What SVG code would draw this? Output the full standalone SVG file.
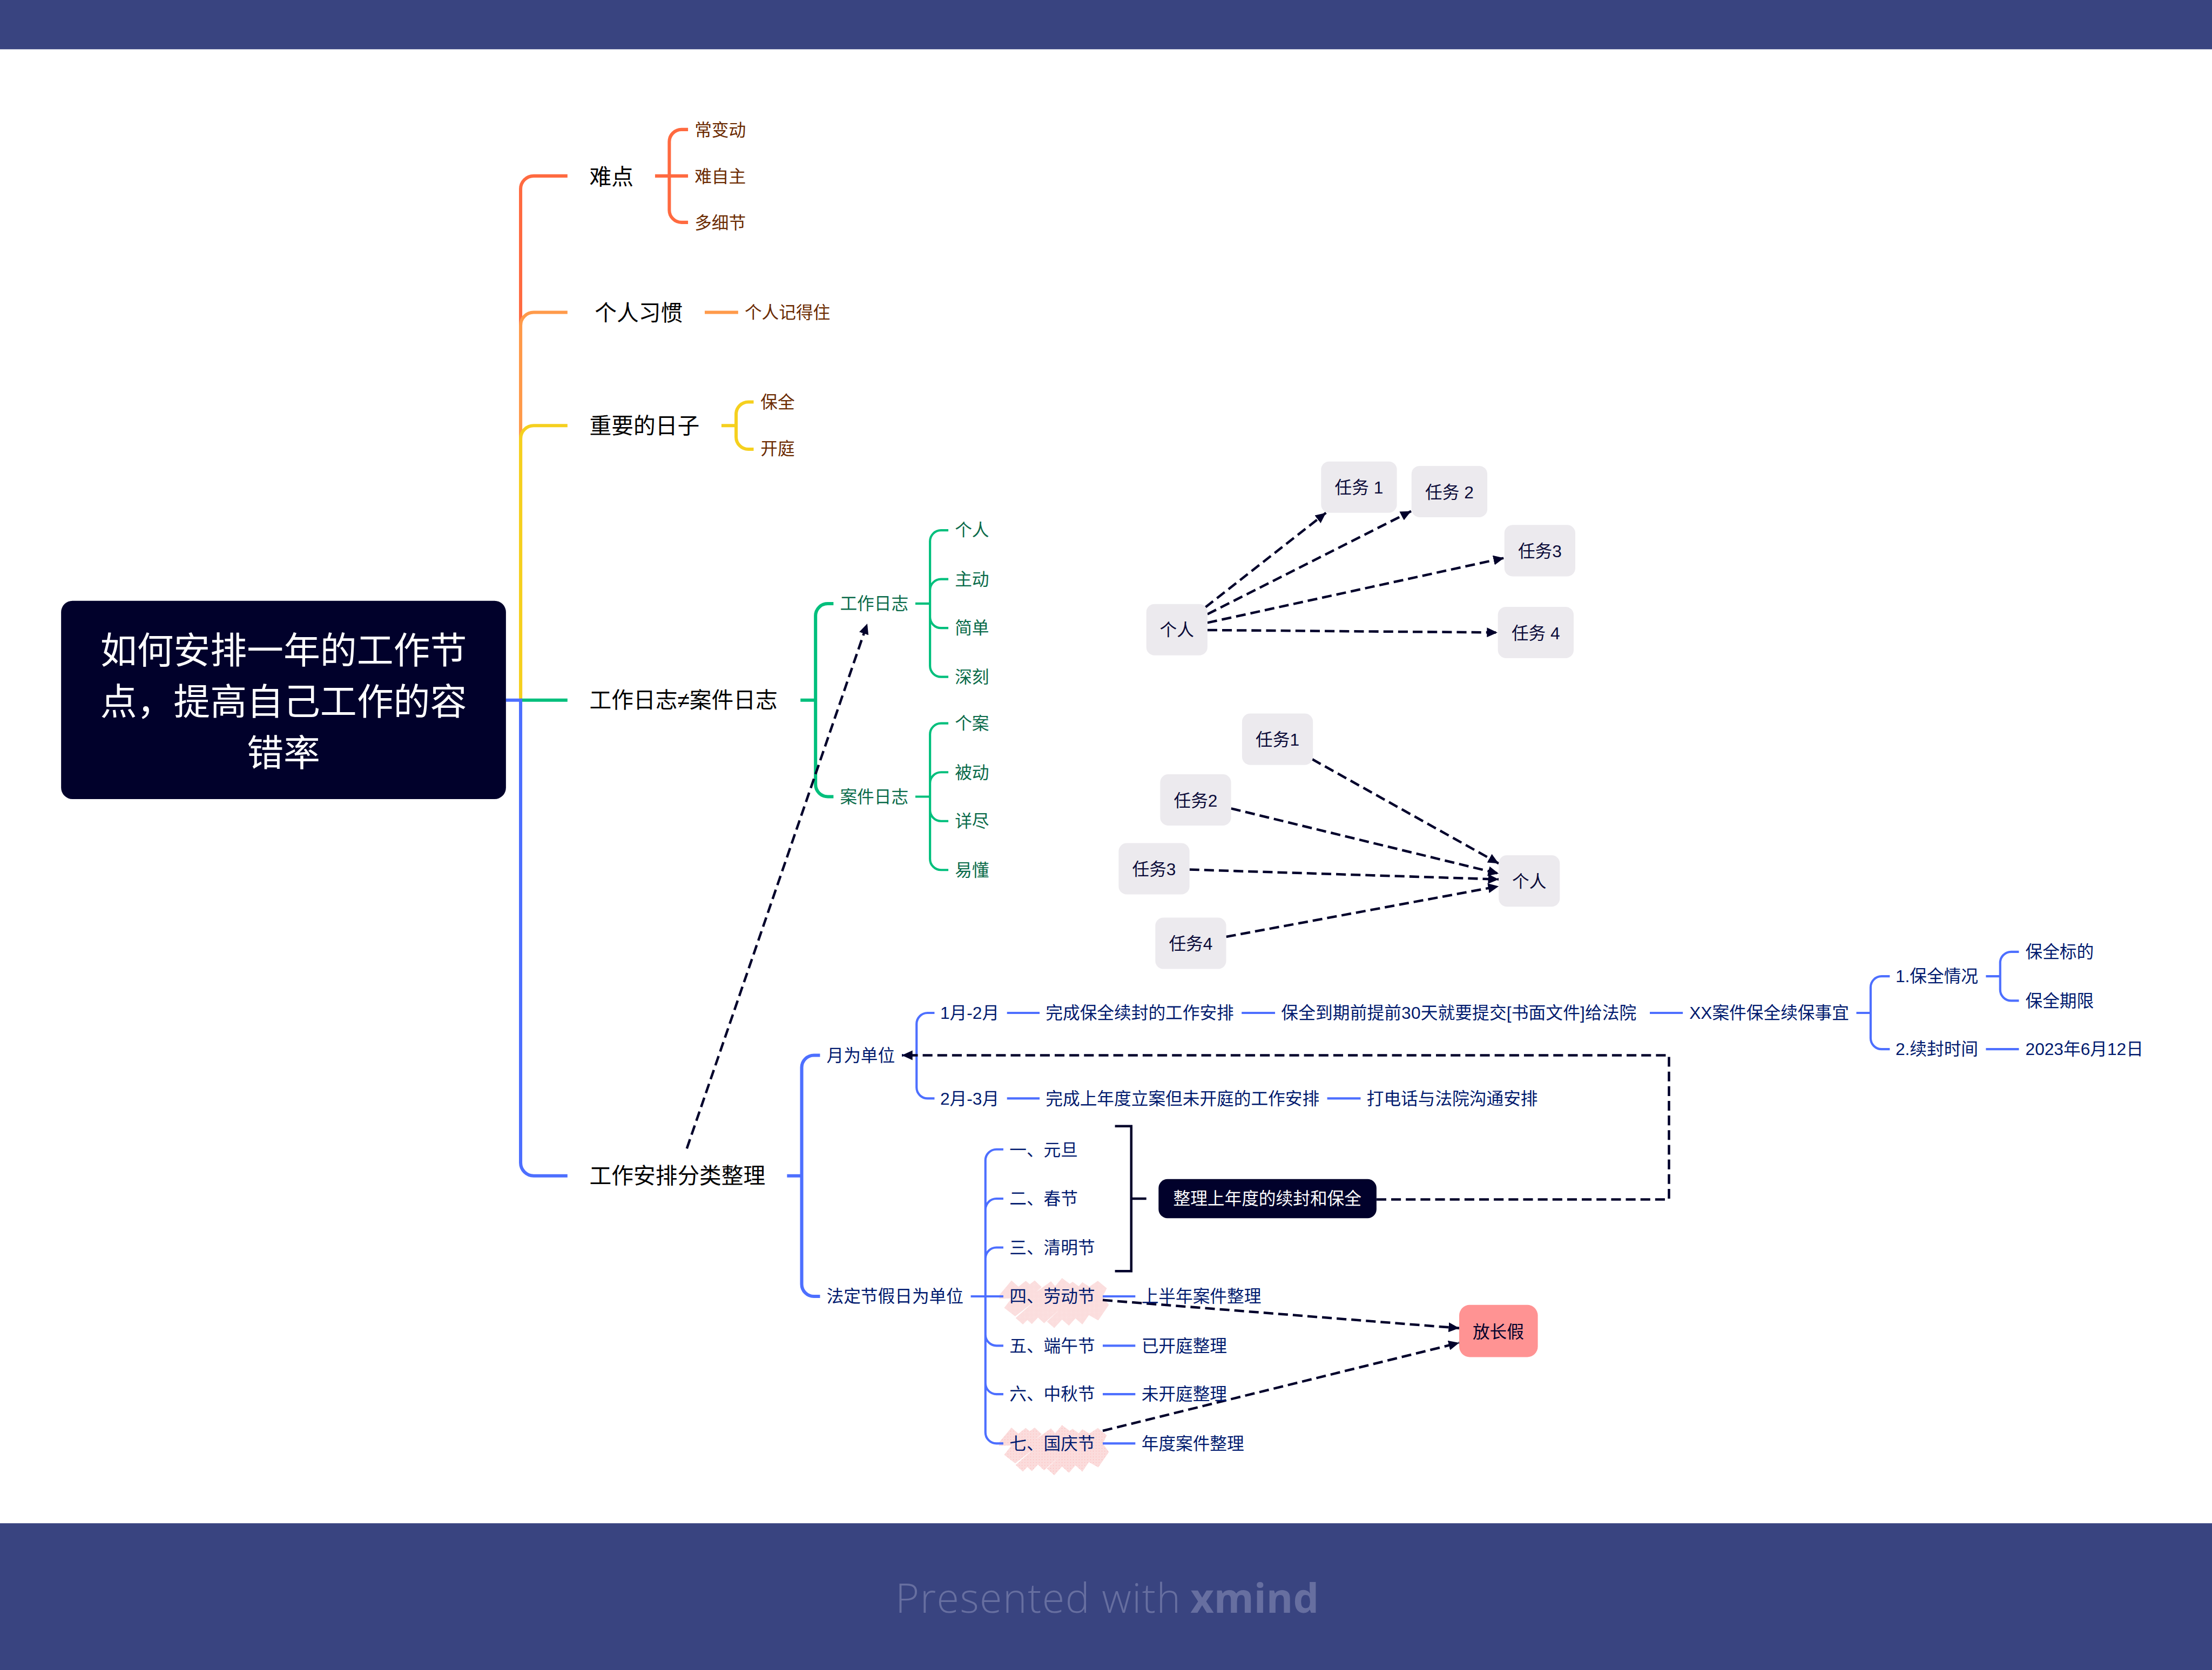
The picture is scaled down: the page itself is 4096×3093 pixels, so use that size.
<svg xmlns="http://www.w3.org/2000/svg" width="4096" height="3093" viewBox="0 0 4096 3093">
<style>
text{font-family:"Liberation Sans","Noto Sans CJK SC",sans-serif;font-size:42px}
.m{font-size:54px;fill:#000}
.c{font-size:90px;fill:#fff;text-anchor:middle}
.rd{fill:#6b2a00}.gt{fill:#0a6b4a}.bt{fill:#001a6e}
.k{fill:#0a0a38;text-anchor:middle}
.w{fill:#fff;text-anchor:middle}
.d{fill:#01012b;text-anchor:middle}
.box{fill:#eceaee}
#connectors path,#connectors line{fill:none}
.l8{stroke-width:8}.l6{stroke-width:5.5}
.red{stroke:#ff6a40}.org{stroke:#ff9a4a}.yel{stroke:#f5d01e}.grn{stroke:#00bf7c}.blu{stroke:#4d6fff}
.rel{stroke:#01012b;stroke-width:6;stroke-dasharray:24 12;marker-end:url(#ah)}
.foot{font-family:"Open Sans","Liberation Sans",sans-serif;font-size:100px;fill:#676fa0}
</style>
<defs>
<marker id="ah" markerUnits="userSpaceOnUse" markerWidth="26" markerHeight="24" refX="26" refY="12" orient="auto"><path d="M0,0L26,12L0,24Z" style="fill:#01012b"/></marker>
<pattern id="dw" width="3" height="3" patternUnits="userSpaceOnUse"><rect width="3" height="3" fill="#fbdcdc"/><circle cx="1.5" cy="1.5" r=".45" fill="#fff"/></pattern>
<pattern id="dr" width="7" height="7" patternUnits="userSpaceOnUse"><rect width="7" height="7" fill="#fbdcdc"/><circle cx="3" cy="3" r=".7" fill="#ff8f8f"/></pattern>
<path id="hl" d="M2453,3189L2453,3180L2483,3144L2500,3159L2518,3145L2528,3153L2540,3144L2557,3160L2544,3172L2580,3146L2590,3158L2607,3138L2626,3152L2633,3147L2648,3158L2657,3148L2674,3159L2695,3145L2717,3163L2707,3183L2722,3204L2696,3242L2673,3229L2657,3252L2640,3237L2624,3255L2607,3240L2588,3261L2570,3245L2600,3216L2563,3249L2548,3235L2533,3251L2522,3241L2511,3252L2493,3236L2540,3195L2492,3232L2465,3211L2483,3188Z"/>
</defs>
<rect width="4096" height="3093" fill="#fff"/>
<g transform="scale(0.75433)">
<rect id="top-bar" width="5430" height="121" fill="#394480"/>
<g id="footer"><rect y="3740" width="5430" height="361" fill="#394480"/><text class="foot" x="2198" y="3960" font-weight="300" letter-spacing="2">Presented with</text><text class="foot" x="2922" y="3960" font-weight="700">xmind</text></g>
<use id="hl-labor" href="#hl" fill="url(#dw)"/>
<use id="hl-national" href="#hl" y="361" fill="url(#dr)"/>

<g id="connectors">
<g class="l8">
<path class="red" d="M1278,1719V464A32,32 0 0 1 1310,432H1393"/>
<path class="org" d="M1278,1719V799A32,32 0 0 1 1310,767H1393"/>
<path class="yel" d="M1278,1719V1077A32,32 0 0 1 1310,1045H1393"/>
<path class="grn" d="M1278,1719H1393"/>
<path class="blu" d="M1242,1719H1278V2855A32,32 0 0 0 1310,2887H1393"/>
<path class="red" d="M1608,432H1689M1643,432V348A30,30 0 0 1 1673,318H1689M1643,432V516A30,30 0 0 0 1673,546H1689"/>
<path class="org" d="M1730,767H1812"/>
<path class="yel" d="M1771,1045H1807M1807,1045V1017A30,30 0 0 1 1837,987H1850M1807,1045V1073A30,30 0 0 0 1837,1103H1850"/>
<path class="grn" d="M1965,1719H2002M2002,1719V1512A30,30 0 0 1 2032,1482H2046M2002,1719V1926A30,30 0 0 0 2032,1956H2046"/>
<path class="blu" d="M1932,2887H1968M1968,2887V2621A30,30 0 0 1 1998,2591H2013M1968,2887V3153A30,30 0 0 0 1998,3183H2013"/>
</g>
<g class="l6">
<path class="grn" d="M2247,1482H2283M2283,1482V1329A27,27 0 0 1 2310,1302H2328M2283,1482V1449A27,27 0 0 1 2310,1422H2328M2283,1482V1515A27,27 0 0 0 2310,1542H2328M2283,1482V1635A27,27 0 0 0 2310,1662H2328"/>
<path class="grn" d="M2247,1956H2283M2283,1956V1803A27,27 0 0 1 2310,1776H2328M2283,1956V1923A27,27 0 0 1 2310,1896H2328M2283,1956V1989A27,27 0 0 0 2310,2016H2328M2283,1956V2109A27,27 0 0 0 2310,2136H2328"/>
<path class="blu" d="M2214,2591H2250M2250,2591V2514A27,27 0 0 1 2277,2487H2294M2250,2591V2670A27,27 0 0 0 2277,2697H2294"/>
<path class="blu" d="M2472,2487H2552M3048,2487H3130M4050,2487H4131M2472,2697H2552M3258,2697H3340"/>
<path class="blu" d="M4557,2487H4592M4592,2487V2424A27,27 0 0 1 4619,2397H4639M4592,2487V2549A27,27 0 0 0 4619,2576H4639"/>
<path class="blu" d="M4875,2397H4910M4910,2397V2364A27,27 0 0 1 4937,2337H4956M4910,2397V2430A27,27 0 0 0 4937,2457H4956M4875,2576H4956"/>
<path class="blu" d="M2383,3183H2463M2419,3183V2849A27,27 0 0 1 2446,2822H2463M2419,3183V2970A27,27 0 0 1 2446,2943H2463M2419,3183V3090A27,27 0 0 1 2446,3063H2463M2419,3183V3277A27,27 0 0 0 2446,3304H2463M2419,3183V3396A27,27 0 0 0 2446,3423H2463M2419,3183V3517A27,27 0 0 0 2446,3544H2463"/>
<path class="blu" d="M2707,3183H2787M2707,3304H2787M2707,3423H2787M2707,3544H2787"/>
</g>
<path d="M2737,2765H2777V3121H2737M2777,2943H2814" stroke="#01012b" stroke-width="6"/>
<g id="relationships">
<line class="rel" x1="1686" y1="2820" x2="2129" y2="1531"/>
<line class="rel" x1="2959" y1="1491" x2="3255" y2="1259"/>
<line class="rel" x1="2964" y1="1508" x2="3464" y2="1255"/>
<line class="rel" x1="2964" y1="1529" x2="3692" y2="1370"/>
<line class="rel" x1="2964" y1="1547" x2="3676" y2="1553"/>
<line class="rel" x1="3221" y1="1864" x2="3679" y2="2120"/>
<line class="rel" x1="3022" y1="1985" x2="3679" y2="2145"/>
<line class="rel" x1="2920" y1="2135" x2="3679" y2="2159"/>
<line class="rel" x1="3010" y1="2300" x2="3679" y2="2176"/>
<path class="rel" d="M3379,2945H4097V2591H2214"/>
<line class="rel" x1="2707" y1="3192" x2="3582" y2="3261"/>
<line class="rel" x1="2707" y1="3513" x2="3582" y2="3297"/>
</g>
</g>

<g id="central"><rect x="150" y="1475" width="1092" height="487" rx="28" fill="#01012b"/>
<text class="c" x="696" y="1629">如何安排一年的工作节</text><text class="c" x="696" y="1755">点，提高自己工作的容</text><text class="c" x="696" y="1881">错率</text></g>

<g id="t1"><text class="m" x="1447" y="453">难点</text></g>
<g id="t1-1"><text class="rd" x="1705" y="334">常变动</text></g>
<g id="t1-2"><text class="rd" x="1705" y="448">难自主</text></g>
<g id="t1-3"><text class="rd" x="1705" y="562">多细节</text></g>
<g id="t2"><text class="m" x="1460" y="787">个人习惯</text></g>
<g id="t2-1"><text class="rd" x="1828" y="782">个人记得住</text></g>
<g id="t3"><text class="m" x="1447" y="1064">重要的日子</text></g>
<g id="t3-1"><text class="rd" x="1867" y="1002">保全</text></g>
<g id="t3-2"><text class="rd" x="1867" y="1116">开庭</text></g>
<g id="t4"><text class="m" x="1447" y="1738">工作日志≠案件日志</text></g>
<g id="t4-1"><text class="gt" x="2062" y="1497">工作日志</text></g>
<g id="t4-1-1"><text class="gt" x="2344" y="1317">个人</text></g>
<g id="t4-1-2"><text class="gt" x="2344" y="1437">主动</text></g>
<g id="t4-1-3"><text class="gt" x="2344" y="1557">简单</text></g>
<g id="t4-1-4"><text class="gt" x="2344" y="1677">深刻</text></g>
<g id="t4-2"><text class="gt" x="2062" y="1971">案件日志</text></g>
<g id="t4-2-1"><text class="gt" x="2344" y="1791">个案</text></g>
<g id="t4-2-2"><text class="gt" x="2344" y="1911">被动</text></g>
<g id="t4-2-3"><text class="gt" x="2344" y="2031">详尽</text></g>
<g id="t4-2-4"><text class="gt" x="2344" y="2151">易懂</text></g>
<g id="t5"><text class="m" x="1447" y="2906">工作安排分类整理</text></g>
<g id="t5-1"><text class="bt" x="2029" y="2606">月为单位</text></g>
<g id="t5-1-1"><text class="bt" x="2308" y="2502">1月-2月</text></g>
<g id="t5-1-1a"><text class="bt" x="2567" y="2502">完成保全续封的工作安排</text></g>
<g id="t5-1-1b"><text class="bt" x="3145" y="2502" letter-spacing=".2">保全到期前提前30天就要提交[书面文件]给法院</text></g>
<g id="t5-1-1c"><text class="bt" x="4147" y="2502">XX案件保全续保事宜</text></g>
<g id="t5-1-1d"><text class="bt" x="4653" y="2412">1.保全情况</text></g>
<g id="t5-1-1e"><text class="bt" x="4972" y="2352">保全标的</text></g>
<g id="t5-1-1f"><text class="bt" x="4972" y="2472">保全期限</text></g>
<g id="t5-1-1g"><text class="bt" x="4653" y="2591">2.续封时间</text></g>
<g id="t5-1-1h"><text class="bt" x="4972" y="2591">2023年6月12日</text></g>
<g id="t5-1-2"><text class="bt" x="2308" y="2712">2月-3月</text></g>
<g id="t5-1-2a"><text class="bt" x="2567" y="2712">完成上年度立案但未开庭的工作安排</text></g>
<g id="t5-1-2b"><text class="bt" x="3355" y="2712">打电话与法院沟通安排</text></g>
<g id="t5-2"><text class="bt" x="2029" y="3198">法定节假日为单位</text></g>
<g id="h1"><text class="bt" x="2478" y="2838">一、元旦</text></g>
<g id="h2"><text class="bt" x="2478" y="2958">二、春节</text></g>
<g id="h3"><text class="bt" x="2478" y="3078">三、清明节</text></g>
<g id="h4"><text class="bt" x="2478" y="3198">四、劳动节</text></g>
<g id="h5"><text class="bt" x="2478" y="3319">五、端午节</text></g>
<g id="h6"><text class="bt" x="2478" y="3438">六、中秋节</text></g>
<g id="h7"><text class="bt" x="2478" y="3559">七、国庆节</text></g>
<g id="h4a"><text class="bt" x="2802" y="3198">上半年案件整理</text></g>
<g id="h5a"><text class="bt" x="2802" y="3319">已开庭整理</text></g>
<g id="h6a"><text class="bt" x="2802" y="3438">未开庭整理</text></g>
<g id="h7a"><text class="bt" x="2802" y="3559">年度案件整理</text></g>
<g id="summary"><rect x="2844" y="2895" width="535" height="96" rx="22" fill="#01012b"/><text class="w" x="3111" y="2958">整理上年度的续封和保全</text></g>
<g id="holiday"><rect x="3582" y="3204" width="193" height="128" rx="26" fill="#ff9393"/><text class="d" x="3678" y="3285">放长假</text></g>

<g id="a0"><rect class="box" x="2814" y="1483" width="150" height="126" rx="20"/><text class="k" x="2889" y="1562">个人</text></g>
<g id="a1"><rect class="box" x="3243" y="1133" width="186" height="126" rx="20"/><text class="k" x="3336" y="1212">任务 1</text></g>
<g id="a2"><rect class="box" x="3465" y="1144" width="186" height="126" rx="20"/><text class="k" x="3558" y="1223">任务 2</text></g>
<g id="a3"><rect class="box" x="3693" y="1289" width="174" height="126" rx="20"/><text class="k" x="3780" y="1368">任务3</text></g>
<g id="a4"><rect class="box" x="3677" y="1490" width="186" height="126" rx="20"/><text class="k" x="3770" y="1569">任务 4</text></g>
<g id="b1"><rect class="box" x="3049" y="1752" width="174" height="126" rx="20"/><text class="k" x="3136" y="1831">任务1</text></g>
<g id="b2"><rect class="box" x="2848" y="1901" width="174" height="126" rx="20"/><text class="k" x="2935" y="1980">任务2</text></g>
<g id="b3"><rect class="box" x="2746" y="2070" width="174" height="126" rx="20"/><text class="k" x="2833" y="2149">任务3</text></g>
<g id="b4"><rect class="box" x="2836" y="2253" width="174" height="126" rx="20"/><text class="k" x="2923" y="2332">任务4</text></g>
<g id="b0"><rect class="box" x="3679" y="2100" width="150" height="126" rx="20"/><text class="k" x="3754" y="2179">个人</text></g>
</g>
</svg>
